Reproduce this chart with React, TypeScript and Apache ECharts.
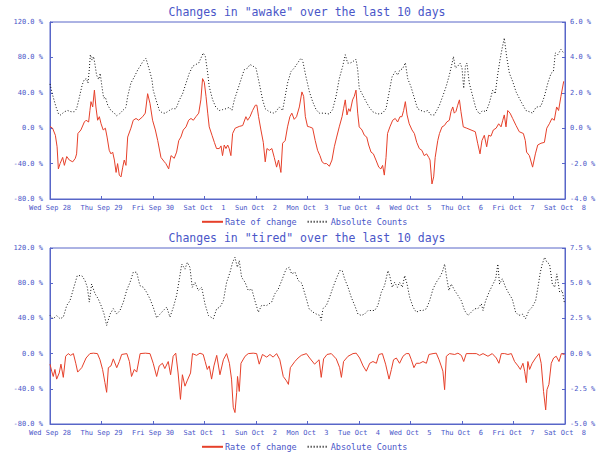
import React, { useEffect, useRef } from "react";
import * as echarts from "echarts";

const dayLabels = [
  "Wed Sep 28", "Thu Sep 29", "Fri Sep 30", "Sat Oct  1", "Sun Oct  2", "Mon Oct  3",
  "Tue Oct  4", "Wed Oct  5", "Thu Oct  6", "Fri Oct  7", "Sat Oct  8",
];
const titles = [
  'Changes in "awake" over the last 10 days',
  'Changes in "tired" over the last 10 days',
];
const seriesNames = ["Rate of change", "Absolute Counts"];

// [hour since Wed Sep 28 00:00, percent (left axis)]
const awakeRate: [number, number][] = [
  [0,2],[1.2,0],[2.5,-8],[3.3,-21],[3.9,-46],[4.7,-40],[5.9,-33],[6.7,-42],[7.8,-32],[9,-36],[10.6,-38],[11.8,-34],[12.4,-29],[13,-6],[14.4,-2],[16,7],[16.8,9],[18,7],[18.6,20],[19.1,30],[19.9,24],[20.7,43],[21.4,24],[22.2,9],[23,13],[23.8,5],[24.8,-2],[25.8,0],[26.6,-10],[27.6,-25],[28.4,-29],[29.2,-27],[30,-36],[30.8,-50],[31.5,-40],[32.3,-53],[33.1,-55],[33.9,-44],[34.6,-36],[35.4,-42],[36.2,-10],[37.7,0],[38.8,9],[40.1,11],[41.3,9],[43.2,13],[44.4,17],[45.5,39],[46.6,28],[47.8,9],[49.1,-2],[50.2,-14],[51.7,-33],[53.3,-38],[54,-40],[55.3,-46],[56.4,-31],[57.9,-34],[59,-27],[60,-14],[61,-10],[62.1,-2],[63.4,1.5],[64.6,9],[65.7,11],[66.8,9],[68,13],[69.3,17],[70.3,32],[71.1,56],[71.9,52],[72.7,36],[73.5,17],[74.2,1.5],[75.5,-8],[76.6,-16],[77.6,-23],[78.9,-23],[79.7,-20],[80.4,-31],[81.2,-19],[82,-23],[82.8,-19],[83.5,-23],[84.3,-31],[85.1,-6],[86.3,0],[88.2,2],[89.8,3],[91.3,13],[92.1,9],[93.2,13],[94.4,20],[95.7,26],[96.4,26],[97.2,13],[98.3,-2],[99.4,-16],[100.3,-38],[101.1,-23],[102.2,-25],[103.4,-23],[104.5,-33],[105.6,-44],[106.5,-36],[107.6,-50],[108.4,-17],[109.6,-14],[110.7,1.5],[111.8,13],[112.7,17],[113.8,10],[114.9,13],[116.2,24],[117.4,41],[118.2,36],[119,13],[120,2],[120.9,1.5],[122.4,0],[123.6,-14],[124.7,-25],[125.8,-31],[126.8,-38],[127.8,-40],[128.9,-40],[130.2,-43],[131.4,-36],[132.5,-21],[133.6,-10],[134.8,1.5],[136.1,13],[136.8,22],[137.6,32],[138.4,15],[139.2,22],[139.9,19],[141,32],[141.8,36],[142.6,43],[143.4,17],[144.1,1.5],[145.4,-2],[146.5,-8],[147.6,-10],[148.5,-19],[149.6,-27],[150.7,-29],[151.9,-36],[153.2,-44],[154.2,-46],[155,-42],[155.8,-53],[156.6,-33],[157.3,-6],[158.4,1.5],[159.7,9],[160.9,11],[162,7],[163.1,13],[164,13],[164.8,20],[165.6,30],[166.4,15],[167.4,5],[168.7,-2],[169.8,-6],[170.9,-16],[172.1,-23],[173.3,-25],[174.4,-31],[175.5,-29],[176.5,-33],[177.1,-36],[178,-63],[178.8,-55],[179.5,-33],[180.7,-14],[181.5,-6],[182.7,1.5],[183.8,3],[184.9,7],[186.1,9],[186.9,19],[187.7,24],[188.4,17],[189.2,19],[190,26],[190.8,32],[191.5,19],[192.6,1.5],[194.2,0],[196.2,-2],[198.2,-4],[199.3,-17],[200.4,-29],[201.3,-14],[202.4,-8],[203.5,-21],[204.4,-8],[205.5,-9],[206.6,-2],[207.9,0],[209.1,5],[210.2,1.5],[211,9],[211.7,15],[212.5,1.5],[213.3,20],[214.4,17],[215.6,11],[217.2,3],[218.7,-4],[220.6,-6],[221.5,-14],[222.1,-27],[223.4,-31],[224.9,-44],[226.2,-29],[227.3,-19],[228.8,-17],[230.4,-16],[231.5,0],[232.7,5],[233.9,11],[235,9],[236.1,24],[237,20],[238.1,36],[239.4,53],
];

// [hour, percent (right axis, -4 .. 6)]
const awakeCounts: [number, number][] = [
  [0,2.5],[1.2,1.88],[2.8,1.2],[4,0.8],[5,0.75],[6.7,0.93],[8.2,1.0],[9.8,0.93],[11.3,0.93],[12.4,1.1],[13.4,1.6],[15,2.45],[16,2.75],[17,2.8],[17.7,2.55],[18.3,3.3],[18.8,4.15],[19.6,3.85],[20.3,4.05],[21.1,3.5],[21.7,3.0],[22.7,2.75],[23.4,3.1],[24.2,2.35],[25,1.7],[25.8,1.75],[26.9,1.3],[28.4,1.0],[30,0.85],[31,0.7],[32.3,0.8],[33.9,1.0],[35.4,1.18],[36.2,1.8],[37.7,2.55],[39.3,2.9],[40.9,3.3],[42,3.5],[43.2,3.75],[44.7,3.95],[46.3,3.3],[47.5,2.75],[48.1,2.15],[49.4,1.6],[51,1.0],[52.5,0.85],[53.7,0.85],[55.6,1.0],[57,1.1],[58.7,1.1],[60.3,1.6],[61.8,1.95],[63.4,2.55],[64.9,3.1],[66.5,3.5],[68,3.6],[69.3,3.68],[70.3,3.95],[71.4,4.25],[72.4,4.05],[73.5,3.1],[74.2,2.35],[75.8,1.6],[77.3,1.18],[78.9,1.0],[80.4,1.05],[82,1.1],[83.5,1.18],[84.8,1.0],[85.9,1.6],[87.4,2.15],[89,2.75],[90.5,3.3],[92.1,3.4],[93.2,3.6],[94.7,3.5],[96,3.4],[97.5,2.55],[99.1,1.6],[100.3,1.1],[102.2,0.93],[104,0.85],[105.3,0.93],[106.8,1.2],[108.4,1.0],[109.6,1.8],[110.7,2.55],[112.3,3.2],[113.8,3.4],[115.4,3.68],[116.9,3.95],[117.7,3.85],[119.3,2.9],[120.9,2.05],[122.4,1.5],[124,1.05],[125.5,0.85],[127.8,0.85],[130.2,0.8],[131.7,1.05],[133.3,1.8],[134.8,2.8],[136.4,3.5],[137.6,4.15],[138.7,3.68],[139.9,3.68],[141,3.75],[142.6,3.9],[143.4,3.3],[144.1,2.25],[145.7,1.88],[147.3,1.5],[148.8,1.18],[150.4,0.93],[152.7,0.8],[155,0.85],[156.6,1.1],[157.8,1.88],[159.4,2.9],[160.9,3.2],[162,3.0],[163.1,3.3],[164.3,3.35],[165.6,3.7],[166.7,2.8],[168.2,2.35],[169.8,1.7],[171.3,1.1],[172.9,1.0],[174.4,0.93],[176,1.0],[177.5,0.75],[179.1,0.75],[179.9,0.93],[181.5,1.3],[183,1.8],[184.6,2.35],[186.1,3.0],[187.4,3.68],[188,4.05],[188.9,3.4],[190,3.5],[191.1,3.68],[192,3.4],[192.8,2.25],[193.6,3.5],[194.3,3.68],[195.4,2.55],[197,1.8],[198.5,1.1],[200.1,0.8],[201.6,1.0],[203.2,0.93],[204.7,1.4],[206.3,2.15],[207.5,1.95],[208.6,3.0],[209.7,3.85],[210.6,4.45],[211.7,5.1],[212.8,4.05],[214.1,3.1],[215.6,2.65],[217.2,2.05],[219.5,1.5],[221.8,1.0],[223.4,0.93],[224.9,0.85],[226.5,1.18],[228.8,1.25],[230.4,1.8],[232,2.55],[233.5,3.1],[234.6,3.2],[235.5,4.25],[236.6,4.15],[238.1,4.45],[239.4,4.25],
];

// [hour, percent (left axis)]
const tiredRate: [number, number][] = [
  [0,-12],[0.8,-20],[1.5,-26],[2.3,-18],[3.1,-29],[4.3,-22],[5.1,-12],[6.2,-27],[7.3,-3],[8.5,0],[9.6,-2],[10.9,0],[12,-11],[12.9,-21],[14.8,-16],[16.8,-5],[18.6,0],[20.2,0.5],[22.1,0],[23.3,-7],[24.5,-18],[25.6,-33],[26.4,-44],[27.2,-16],[28.4,-14],[29.5,-6],[31.1,-16],[32.3,-9],[33.4,-1],[35.8,0],[37,-9],[38,-26],[39.3,-18],[40.4,-21],[42,0],[44.4,0.5],[46.6,0],[48.1,-11],[49.7,-26],[50.9,-14],[52.4,-11],[53.5,-17],[55.1,-9],[56.2,-24],[57.4,-3],[58.6,0.5],[59.7,-22],[60.8,-52],[61.7,-24],[62.9,-37],[63.9,-31],[65.5,-22],[66.4,0],[68.3,-2],[69.9,0.5],[71.4,-1],[72.3,-9],[73.3,-18],[74.2,-14],[75.3,-29],[76.4,-14],[77.7,-2],[79.2,-24],[80.8,-7],[82.3,0],[83.6,-11],[84.6,-29],[85.4,-61],[86.2,-67],[87,-44],[87.4,-26],[88.2,-43],[89,-11],[90.9,-3],[92.4,0],[94.7,0.5],[96.3,0],[97.5,-12],[99,-1],[101,-4],[102.5,-1],[104,-4],[105.6,0],[107.1,-7],[108.7,-26],[110.2,-31],[111.1,-35],[112,-16],[114.1,-9],[115.6,-5],[117.1,-2],[119.5,0],[121,-5],[123.3,-12],[125.4,-7],[126.4,-27],[127.5,-6],[129.1,-1],[131.1,0],[133.4,-6],[135,-16],[135.8,-27],[136.8,-9],[138.9,-3],[141.2,0],[142.7,0.5],[144.3,-5],[145.9,-14],[147.4,-20],[149,-11],[150.5,-9],[152.1,-11],[153.3,-1],[154.9,0],[156.4,-12],[158,-29],[159.1,-18],[160.1,-7],[161.4,-5],[162.9,-11],[164.5,-3],[166,0],[167.3,0],[168.4,-7],[169.6,-16],[170.7,-11],[172.3,-11],[173.8,-9],[175.4,-11],[176.6,-1],[178.5,0],[180,0.5],[181.3,-7],[182.3,-14],[183.1,-20],[183.9,-41],[184.7,-3],[186.2,0],[188.6,-1],[190.1,0.5],[191.7,-2],[192.8,-9],[194,0],[197.1,0],[198.7,0],[200.2,-2],[201.8,0],[204.1,-3],[206.1,0],[208,-5],[209.2,-11],[210.3,0],[211.9,0],[213.4,-1],[215,0],[216.5,-9],[218.1,-14],[219.2,-18],[220.4,-11],[221.2,-20],[222,-33],[222.7,-9],[223.5,-18],[224.7,-11],[226.3,-5],[227.9,0],[228.9,-11],[230,-43],[231,-64],[231.6,-41],[232.5,-35],[233.6,-11],[234.7,-5],[235.9,-3],[237.2,-9],[238.3,0],[239.8,-1],
];

// [hour, percent (right axis, -5 .. 7.5)]
const tiredCounts: [number, number][] = [
  [0,2.71],[1.5,2.48],[3.1,2.69],[4.7,2.48],[6.2,2.59],[7.8,3.42],[9.3,3.75],[10.9,4.59],[12.7,5.54],[14.8,5.54],[16.3,5.19],[17.4,4.71],[18.3,3.66],[19.4,4.94],[21,4.25],[22.5,3.88],[24.1,3.3],[25.2,2.81],[26.4,2.0],[28,2.81],[29.5,3.19],[31.1,2.81],[32.6,3.06],[34.2,3.66],[35.7,4.48],[37.3,5.06],[38.8,5.78],[40.4,5.78],[41.9,4.83],[43.5,4.71],[45,4.36],[46.6,3.88],[48.1,3.3],[49.7,2.54],[51.3,2.81],[52.8,3.06],[54.4,3.3],[55.9,2.59],[57.5,3.3],[59,4.13],[60.3,5.31],[61.4,6.36],[62.9,6.0],[64,6.48],[65.2,6.13],[66.3,4.71],[67.6,5.06],[69.1,4.48],[70.7,4.71],[72.2,3.54],[73.8,2.71],[76.1,2.48],[77.7,3.19],[79.2,3.3],[80.8,3.75],[82.3,5.06],[83.9,5.78],[85.1,6.48],[86.2,6.84],[87.3,6.13],[88.2,6.6],[89.3,5.42],[90.9,5.06],[92.4,4.48],[94,4.59],[95.5,3.75],[97.1,2.94],[98.6,3.42],[101,3.42],[103.3,3.66],[104.8,4.25],[106.4,4.59],[108,5.19],[110,6.0],[111.5,6.13],[112.6,5.66],[114.2,5.78],[115.7,5.19],[117.3,5.0],[119.5,3.88],[120.7,3.19],[122.6,2.94],[124.1,2.81],[125.7,2.71],[126.4,2.36],[127.2,3.19],[128.8,3.42],[130.3,4.0],[131.9,4.71],[133.4,5.31],[135,5.89],[136.2,5.89],[137.3,5.31],[138.9,4.71],[140.4,4.0],[142,3.42],[143.5,2.81],[145.1,2.71],[146.6,2.81],[148.2,3.06],[149.7,3.06],[151.3,3.06],[152.8,3.42],[154.4,4.36],[155.9,4.83],[157.5,5.89],[158.3,5.54],[159.5,4.71],[160.6,5.06],[161.9,4.71],[162.9,5.06],[164.2,4.71],[165.3,5.54],[166.4,4.94],[167.6,4.0],[169.2,3.3],[170.7,2.94],[172.3,3.06],[173.8,3.06],[175.4,3.19],[176.9,3.75],[178.5,4.59],[180,5.06],[181.6,5.42],[182.8,5.78],[183.9,6.36],[184.7,5.54],[185.9,4.48],[187,4.94],[188.6,4.48],[190.1,4.13],[191.7,3.75],[193.2,3.06],[194.8,2.71],[196.3,2.94],[197.9,3.19],[199.4,3.19],[201,3.54],[201.8,3.06],[203,3.75],[204.6,4.36],[206.1,4.83],[207.7,5.31],[208.7,6.36],[209.5,4.94],[210.8,5.31],[212.3,4.71],[213.9,4.25],[215.4,3.88],[217,2.94],[218.5,2.71],[220.1,2.81],[221.6,2.48],[223.2,3.06],[224.7,3.3],[226.3,3.75],[227.4,4.71],[228.5,5.78],[229.4,6.36],[230.5,6.84],[231.6,6.48],[232.8,6.36],[234.1,4.94],[235.2,4.71],[236.2,5.66],[237.5,4.36],[238.7,4.48],[239.8,3.54],
];

const leftRange = { min: -80, max: 120, interval: 40 };
const rightRanges = [
  { min: -4, max: 6, interval: 2 },
  { min: -5, max: 7.5, interval: 2.5 },
];

const FONT = '"DejaVu Sans Mono", monospace';
const TEXT = "#4a56c8";
const AXIS = "#5866c8";
const RED = "#e6402a";
const DOT = "#111111";

export default function App() {
  const ref = useRef<HTMLDivElement>(null);
  useEffect(() => {
    const chart = echarts.init(ref.current!, null, { renderer: "svg" });
    const grids = [
      { top: 22, height: 177 },
      { top: 248, height: 176 },
    ];
    const pct = (v: number) => `${v.toFixed(1)} %`;
    const axisCommon = {
      axisLine: { show: true, onZero: false, lineStyle: { color: AXIS, width: 1 } },
      axisTick: { show: true, inside: true, length: 3, lineStyle: { color: AXIS } },
      splitLine: { show: false },
    };
    const labelStyle = { fontFamily: FONT, fontSize: 7, color: TEXT };
    const option: any = {
      animation: false,
      backgroundColor: "#ffffff",
      grid: grids.map((g) => ({
        left: 50,
        right: 41,
        top: g.top,
        height: g.height,
        show: true,
        borderColor: AXIS,
        borderWidth: 1,
        backgroundColor: "transparent",
      })),
      xAxis: grids.map((_, i) => ({
        type: "value",
        gridIndex: i,
        min: 0,
        max: 240,
        interval: 24,
        ...axisCommon,
        axisLabel: {
          ...labelStyle,
          margin: 5,
          showMinLabel: true,
          showMaxLabel: true,
          formatter: (v: number) => dayLabels[Math.round(v / 24)] ?? "",
        },
      })),
      yAxis: [
        ...grids.map((_, i) => ({
          type: "value",
          gridIndex: i,
          position: "left",
          ...leftRange,
          ...axisCommon,
          axisLabel: { ...labelStyle, margin: 7, formatter: pct },
        })),
        ...grids.map((_, i) => ({
          type: "value",
          gridIndex: i,
          position: "right",
          ...rightRanges[i],
          ...axisCommon,
          axisLabel: { ...labelStyle, margin: 5, formatter: pct },
        })),
      ],
      legend: [223, 448].map((cy) => ({
        top: cy - 6,
        left: 201,
        padding: 0,
        itemWidth: 21,
        itemHeight: 12,
        itemGap: 10,
        selectedMode: false,
        itemStyle: { opacity: 0, color: "transparent", borderWidth: 0 },
        data: [
          { name: seriesNames[0], lineStyle: { width: 2 }, itemStyle: { opacity: 0, color: "transparent", borderWidth: 0 } },
          { name: seriesNames[1], itemStyle: { opacity: 0, color: "transparent", borderWidth: 0 } },
        ],
        textStyle: { fontFamily: FONT, fontSize: 8.5, color: TEXT, padding: [0, 0, 0, -3] },
      })),
      graphic: [12, 238].map((cy, i) => ({
        type: "text",
        x: 307,
        y: cy,
        style: {
          text: titles[i],
          fill: TEXT,
          font: `11.5px ${FONT}`,
          align: "center",
          verticalAlign: "middle",
          textAlign: "center",
          textVerticalAlign: "middle",
        },
      })),
      series: [
        { data: awakeRate, name: seriesNames[0], xAxisIndex: 0, yAxisIndex: 0, kind: "rate" },
        { data: awakeCounts, name: seriesNames[1], xAxisIndex: 0, yAxisIndex: 2, kind: "count" },
        { data: tiredRate, name: seriesNames[0], xAxisIndex: 1, yAxisIndex: 1, kind: "rate" },
        { data: tiredCounts, name: seriesNames[1], xAxisIndex: 1, yAxisIndex: 3, kind: "count" },
      ].map((s) => ({
        type: "line",
        name: s.name,
        xAxisIndex: s.xAxisIndex,
        yAxisIndex: s.yAxisIndex,
        data: s.data,
        symbol: "none",
        showSymbol: false,
        silent: true,
        itemStyle: { color: s.kind === "rate" ? RED : DOT },
        lineStyle:
          s.kind === "rate"
            ? { color: RED, width: 1 }
            : { color: DOT, width: 1, type: [1, 2] },
      })),
    };
    chart.setOption(option);
    return () => chart.dispose();
  }, []);
  return (
    <div
      ref={ref}
      style={{ position: "absolute", left: 0, top: 0, width: 606, height: 459 }}
    />
  );
}
